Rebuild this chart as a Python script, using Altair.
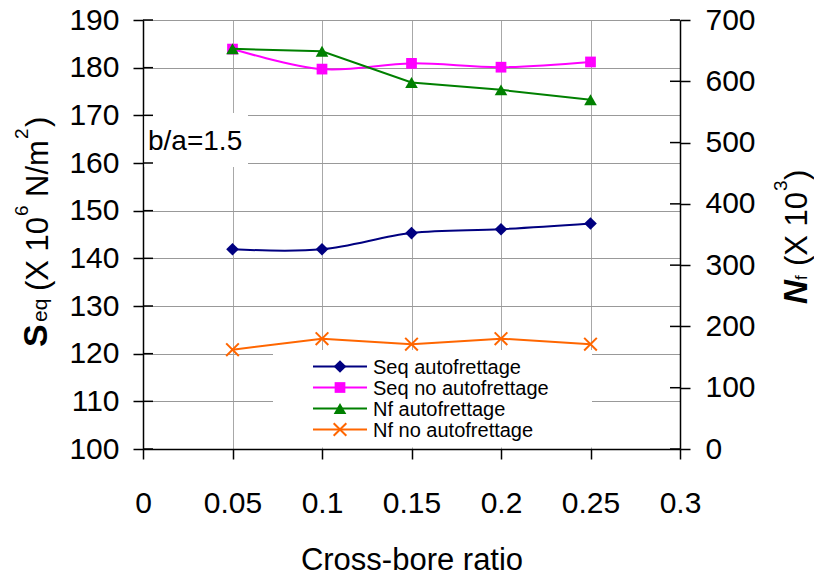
import altair as alt
import pandas as pd

# ---------------- data ----------------
x_ratio = [0.05, 0.10, 0.15, 0.20, 0.25]
seq_autofrettage = [141.9, 141.9, 145.3, 146.1, 147.3]
seq_no_autofrettage = [183.9, 179.7, 180.9, 180.1, 181.2]
nf_autofrettage = [653, 649, 598, 586, 570]
nf_no_autofrettage = [162, 180, 171, 180, 171]

series_names = ["Seq autofrettage", "Seq no autofrettage", "Nf autofrettage", "Nf no autofrettage"]
series_colors = ["#000080", "#FF00FF", "#008000", "#FF6600"]

x_ticks = [0, 0.05, 0.1, 0.15, 0.2, 0.25, 0.3]
left_ticks = [100, 110, 120, 130, 140, 150, 160, 170, 180, 190]
right_ticks = [0, 100, 200, 300, 400, 500, 600, 700]

# ---------------- layout ----------------
FONT = "Liberation Sans"
OX, OY = 143, 20          # page position of plot origin
W, H = 537, 429
XPATH = "M-1,-1L1,1M-1,1L1,-1"

X = alt.X("x:Q", scale=alt.Scale(domain=[0, 0.3], nice=False, zero=False),
          axis=alt.Axis(values=x_ticks, format="~g", title="Cross-bore ratio",
                        grid=True, gridColor="#a8a8a8", gridWidth=1,
                        tickSize=10, labelPadding=29, labelFlush=False,
                        titleY=120, titleBaseline="alphabetic",
                        titleFontSize=31, titleFontWeight="normal"))


def yl_scale():
    return alt.Scale(domain=[100, 190], nice=False, zero=False)


def yr_scale():
    return alt.Scale(domain=[0, 700], nice=False, zero=False)


yl_axis = alt.Axis(values=left_ticks, grid=True, gridColor="#999999", gridWidth=1,
                   tickSize=10, labelPadding=14, orient="left", title="")
yr_axis = alt.Axis(values=right_ticks, grid=False, tickSize=10, labelPadding=15,
                   orient="right", title="")


def series(vals, color, shape, size, interp, yscale, yaxis, filled=True):
    df = pd.DataFrame({"x": x_ratio, "v": vals})
    base = alt.Chart(df)
    ykw = {"scale": yscale()}
    if yaxis is not None:
        ykw["axis"] = yaxis
    else:
        ykw["axis"] = None
    line = base.mark_line(color=color, strokeWidth=2, interpolate=interp).encode(
        x=X, y=alt.Y("v:Q", **ykw))
    if filled:
        pts = base.mark_point(shape=shape, filled=True, size=size, color=color, opacity=1)
    else:
        pts = base.mark_point(shape=shape, filled=False, size=size, color=color,
                              opacity=1, strokeWidth=2)
    pts = pts.encode(x=X, y=alt.Y("v:Q", scale=yscale(), axis=None))
    return [line, pts]


def inner_ticks(vals, yscale, x0, x1):
    return alt.Chart(pd.DataFrame({"v": vals})).mark_rule(color="black", strokeWidth=1.5).encode(
        y=alt.Y("v:Q", scale=yscale(), axis=None), x=alt.value(x0), x2=alt.value(x1))


def ptext(text, px, py, size, weight="normal", style="normal", angle=0,
          align="left", baseline="alphabetic"):
    kw = dict(font=FONT, fontSize=size, fontWeight=weight, fontStyle=style,
              align=align, baseline=baseline, color="black")
    if angle:
        kw["angle"] = angle
    return alt.Chart(pd.DataFrame({"t": [text]})).mark_text(**kw).encode(
        text="t:N", x=alt.value(px - OX), y=alt.value(py - OY))


def white_box(x0, x1, y0, y1):
    return alt.Chart(pd.DataFrame({"a": [0]})).mark_rect(color="white").encode(
        x=alt.value(x0 - OX), x2=alt.value(x1 - OX), y=alt.value(y0 - OY), y2=alt.value(y1 - OY))


data_layers = (
    series(seq_autofrettage, series_colors[0], "diamond", 160, "cardinal", yl_scale, yl_axis)
    + series(seq_no_autofrettage, series_colors[1], "square", 115, "cardinal", yl_scale, None)
    + series(nf_autofrettage, series_colors[2], "triangle-up", 160, "linear", yr_scale, yr_axis)
    + series(nf_no_autofrettage, series_colors[3], XPATH, 160, "linear", yr_scale, None, filled=False)
    + [inner_ticks(left_ticks, yl_scale, 0, 10), inner_ticks(right_ticks, yr_scale, W - 10, W)]
)

# legend (manual, line + marker + label)
legend_y = [366.5, 387.5, 408.5, 429.5]
legend_shapes = ["diamond", "square", "triangle-up", XPATH]
legend_layers = []
for name, col, shp, ly in zip(series_names, series_colors, legend_shapes, legend_y):
    d = alt.Chart(pd.DataFrame({"t": [name]}))
    legend_layers.append(d.mark_rule(color=col, strokeWidth=2).encode(
        x=alt.value(313 - OX), x2=alt.value(367 - OX), y=alt.value(ly - OY)))
    if shp == XPATH:
        mk = d.mark_point(shape=shp, filled=False, size=160, color=col, opacity=1, strokeWidth=2)
    else:
        mk = d.mark_point(shape=shp, filled=True, size=160 if shp != "square" else 115,
                          color=col, opacity=1)
    legend_layers.append(mk.encode(x=alt.value(340 - OX), y=alt.value(ly - OY)))
    legend_layers.append(d.mark_text(font=FONT, fontSize=20, align="left", baseline="middle",
                                      color="black").encode(
        text="t:N", x=alt.value(373 - OX), y=alt.value(ly - OY + 1)))

# axis titles built from pieces (sub/superscripts)
title_layers = [
    ptext("S", 47, 347, 34, weight="bold", angle=270),
    ptext("eq", 47, 322, 21, angle=270),
    ptext("(X 10", 48, 291, 31, angle=270),
    ptext("6", 28, 216, 19, angle=270),
    ptext("N/m", 48, 197, 31, angle=270),
    ptext("2", 28, 139, 19, angle=270),
    ptext(")", 48, 127, 31, angle=270),
    ptext("N", 807, 304, 33, weight="bold", style="italic", angle=270),
    ptext("f", 807, 280, 17, angle=270),
    ptext("(X 10", 807, 266, 31, angle=270),
    ptext("3", 787, 191, 19, angle=270),
    ptext(")", 807, 180, 31, angle=270),
]

boxes = [white_box(273, 592, 350, 447.5), white_box(144.5, 248, 113, 167)]
annot = [ptext("b/a=1.5", 148, 150, 28)]

chart = alt.layer(
    *boxes, *data_layers, *legend_layers, *annot, *title_layers
).resolve_scale(y="independent").properties(
    width=W, height=H, autosize="none",
    padding={"left": OX, "top": OY, "right": 814 - OX - W, "bottom": 579 - OY - H},
).configure_view(strokeWidth=0).configure(font=FONT).configure_axis(
    labelFont=FONT, labelFontSize=30, labelColor="black",
    titleFont=FONT, titleColor="black",
    domainColor="black", domainWidth=1.5, tickColor="black", tickWidth=1.5,
)

chart.save("out.html", embed_options={"renderer": "svg", "actions": False})
